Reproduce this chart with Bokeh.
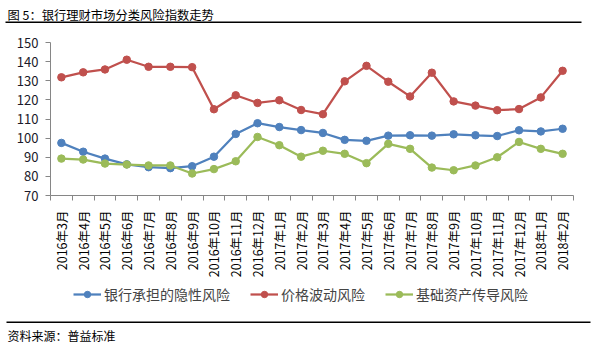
import math
from bokeh.plotting import figure
from bokeh.layouts import column
from bokeh.models import Range1d, FixedTicker, Label, BoxAnnotation, Legend, LegendItem
from bokeh.embed import file_html
from bokeh.resources import INLINE

months = ["2016年3月", "2016年4月", "2016年5月", "2016年6月", "2016年7月", "2016年8月",
          "2016年9月", "2016年10月", "2016年11月", "2016年12月", "2017年1月", "2017年2月",
          "2017年3月", "2017年4月", "2017年5月", "2017年6月", "2017年7月", "2017年8月",
          "2017年9月", "2017年10月", "2017年11月", "2017年12月", "2018年1月", "2018年2月"]
hidden_risk = [97.5, 92.9, 89.3, 86.3, 84.8, 84.3, 85.3, 90.3, 102.2, 107.8, 105.8, 104.2,
               102.7, 99.1, 98.6, 101.3, 101.5, 101.3, 102.0, 101.5, 101.1, 104.1, 103.5, 104.9]
price_risk = [131.8, 134.4, 135.9, 141.0, 137.3, 137.3, 137.1, 115.1, 122.4, 118.4, 119.8, 114.7,
              112.5, 129.7, 137.8, 129.5, 121.8, 134.2, 119.2, 117.0, 114.6, 115.2, 121.3, 135.2]
asset_risk = [89.3, 88.8, 86.7, 86.2, 85.7, 85.7, 81.5, 83.8, 87.9, 100.6, 96.3, 90.3,
              93.4, 91.8, 86.9, 97.0, 94.4, 84.6, 83.2, 85.7, 90.0, 98.0, 94.4, 91.8]
series_names = ["银行承担的隐性风险", "价格波动风险", "基础资产传导风险"]
y_ticks = [70, 80, 90, 100, 110, 120, 130, 140, 150]
title_text = "图 5：银行理财市场分类风险指数走势"
source_text = "资料来源：普益标准"

colors = ["#4F81BD", "#C0504D", "#9BBB59"]
CJK = "Noto Sans CJK SC"
W = 595
series = [hidden_risk, price_risk, asset_risk]


def blank(height):
    f = figure(width=W, height=height, output_backend="svg", toolbar_location=None,
               x_range=Range1d(0, W), y_range=Range1d(height, 0),
               x_axis_location=None, y_axis_location=None,
               min_border=0, min_border_left=0, min_border_right=0,
               min_border_top=0, min_border_bottom=0,
               outline_line_color=None, background_fill_color="white",
               border_fill_color="white")
    f.grid.visible = False
    f.frame_align = False
    return f


# ---- header ----
head = blank(30)
head.add_layout(Label(x=7, y=14, text=title_text, text_font=CJK, text_font_size="12.3px",
                      text_baseline="middle", text_align="left", text_color="#000000"))
head.add_layout(BoxAnnotation(left=5, right=581, top=21, bottom=22.5,
                              fill_color="black", fill_alpha=1, line_color=None))

# ---- main chart ----
centers = [i + 0.5 for i in range(len(months))]
bounds = list(range(len(months) + 1))

p = figure(width=W, height=250, output_backend="svg", toolbar_location=None,
           x_range=Range1d(0, len(months)), y_range=Range1d(y_ticks[0], y_ticks[-1]),
           min_border_left=50, min_border_right=22, min_border_top=12, min_border_bottom=83,
           outline_line_color=None, background_fill_color="white", border_fill_color="white")
p.grid.visible = False
p.frame_align = False

axis_color = "#868686"
xa = p.xaxis[0]
xa.ticker = FixedTicker(ticks=centers, minor_ticks=bounds)
xa.major_label_overrides = {c: m for c, m in zip(centers, months)}
xa.major_label_orientation = math.pi / 2
xa.major_tick_line_color = None
xa.minor_tick_line_color = axis_color
xa.minor_tick_out = 5
xa.minor_tick_in = 0
xa.axis_line_color = axis_color
xa.major_label_standoff = 9
xa.major_label_text_font = CJK
xa.major_label_text_font_size = "12.5px"
xa.major_label_text_color = "#000000"

ya = p.yaxis[0]
ya.ticker = FixedTicker(ticks=y_ticks, minor_ticks=[])
ya.major_tick_line_color = axis_color
ya.major_tick_out = 5
ya.major_tick_in = 0
ya.axis_line_color = axis_color
ya.major_label_standoff = 7
ya.major_label_text_font = CJK
ya.major_label_text_font_size = "13px"
ya.major_label_text_color = "#1a1a2a"

for vals, col in zip(series, colors):
    p.line(centers, vals, line_color=col, line_width=2.25)
    p.scatter(centers, vals, size=7.5, fill_color=col, line_color=col)

# ---- footer: legend + source ----
foot = blank(69)
items = []
for vals, col, name in zip(series, colors, series_names):
    # legend-key renderers (hidden; the legend draws their keys)
    lr = foot.line(centers, vals, line_color=col, line_width=2.25, visible=False)
    sr = foot.scatter(centers, vals, size=7.5, fill_color=col, line_color=col, visible=False)
    items.append(LegendItem(label=name, renderers=[lr, sr]))
legend = Legend(items=items, orientation="horizontal", location=(73, 45),
                label_text_font=CJK, label_text_font_size="14px", glyph_width=28,
                glyph_height=16, label_height=16, label_standoff=3, spacing=20,
                padding=0, margin=0, border_line_color=None, background_fill_alpha=0)
foot.add_layout(legend)
foot.add_layout(BoxAnnotation(left=6, right=590, top=41, bottom=42.5,
                              fill_color="black", fill_alpha=1, line_color=None))
foot.add_layout(Label(x=7, y=55, text=source_text, text_font=CJK, text_font_size="12px",
                      text_baseline="middle", text_align="left", text_color="#000000"))

layout = column(head, p, foot, spacing=0)
open("out.html", "w").write(file_html(layout, INLINE))
